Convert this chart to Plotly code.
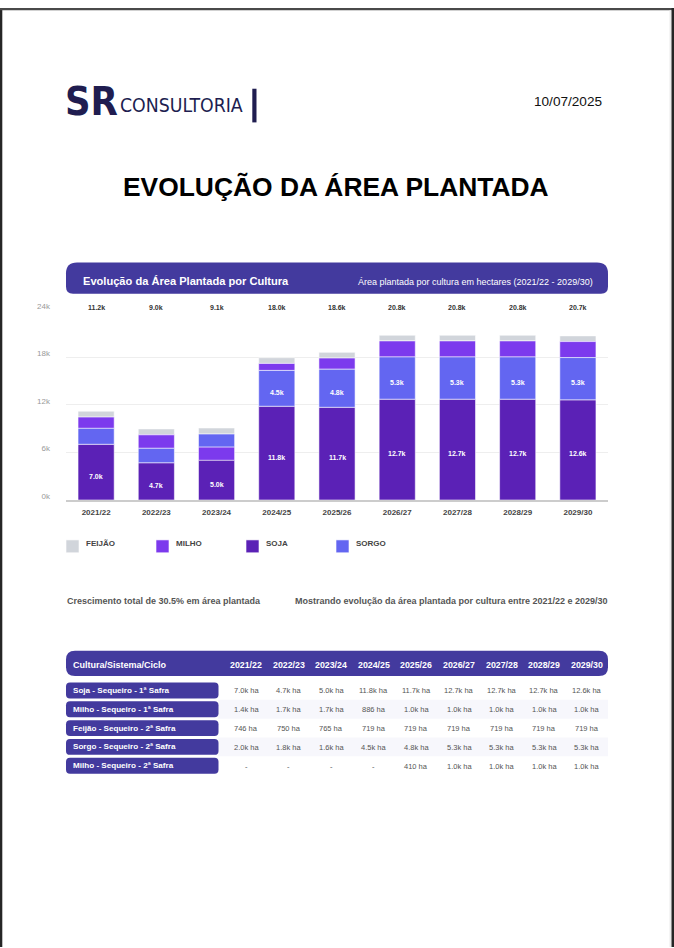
import plotly.graph_objects as go

W, H = 674, 948

# ---------------- data ----------------
safras = ["2021/22", "2022/23", "2023/24", "2024/25", "2025/26",
          "2026/27", "2027/28", "2028/29", "2029/30"]
soja = [7030, 4700, 5000, 11830, 11700, 12720, 12720, 12720, 12640]
milho_1 = [1420, 1700, 1700, 886, 1000, 1010, 1010, 1010, 1010]
feijao = [746, 750, 765, 719, 719, 719, 719, 719, 719]
sorgo = [2010, 1820, 1620, 4520, 4800, 5330, 5330, 5330, 5330]
milho_2 = [None, None, None, None, 410, 1010, 1010, 1010, 1010]

row_labels = ["Soja - Sequeiro - 1ª Safra", "Milho - Sequeiro - 1ª Safra",
              "Feijão - Sequeiro - 2ª Safra", "Sorgo - Sequeiro - 2ª Safra",
              "Milho - Sequeiro - 2ª Safra"]
y_ticks = [0, 6000, 12000, 18000, 24000]
y_tick_text = ["0k", "6k", "12k", "18k", "24k"]

crop_names = ["FEIJÃO", "MILHO", "SOJA", "SORGO"]
crop_colors = {"FEIJÃO": "#d1d5db", "MILHO": "#7c3aed", "SOJA": "#5b21b6", "SORGO": "#6366f1"}

milho_total = [a + (b or 0) for a, b in zip(milho_1, milho_2)]
crop_values = {"FEIJÃO": feijao, "MILHO": milho_total, "SOJA": soja, "SORGO": sorgo}
totals = [sum(crop_values[c][i] for c in crop_names) for i in range(len(safras))]

BAND = "#433a9e"
NAVY = "#201d50"
FONT = "Liberation Sans, Arial, Helvetica, sans-serif"
LOGO_FONT = "Liberation Sans Narrow, DejaVu Sans Condensed, sans-serif"


def px(x):
    return x / W


def py(y):
    return 1 - y / H


def kfmt(v):
    return f"{v / 1000:.1f}k"


def cell_fmt(v):
    if v is None:
        return "-"
    if v >= 1000:
        return f"{v / 1000:.1f}k ha"
    return f"{v} ha"


def rrect(x0, y0, x1, y1, r_top, r_bot=None):
    """Rounded rect path in paper coords from pixel coords."""
    if r_bot is None:
        r_bot = r_top
    X0, X1 = px(x0), px(x1)
    Y0, Y1 = py(y0), py(y1)  # Y0 is top (bigger)
    rtx, rty = r_top / W, r_top / H
    rbx, rby = r_bot / W, r_bot / H
    return (f"M {X0 + rtx},{Y0} L {X1 - rtx},{Y0} Q {X1},{Y0} {X1},{Y0 - rty} "
            f"L {X1},{Y1 + rby} Q {X1},{Y1} {X1 - rbx},{Y1} "
            f"L {X0 + rbx},{Y1} Q {X0},{Y1} {X0},{Y1 + rby} "
            f"L {X0},{Y0 - rty} Q {X0},{Y0} {X0 + rtx},{Y0} Z")


def text(x, y, s, size, color, anchor="left", family=FONT):
    return dict(x=px(x), y=py(y), xref="paper", yref="paper", xanchor=anchor, yanchor="middle",
                text=s, showarrow=False, borderpad=0, font=dict(family=family, size=size, color=color))


# ---------------- stacking order per bar: largest at the bottom ----------------
bases = {c: [0] * len(safras) for c in crop_names}
for i in range(len(safras)):
    order = sorted(crop_names, key=lambda c: -crop_values[c][i])
    acc = 0
    for c in order:
        bases[c][i] = acc
        acc += crop_values[c][i]

fig = go.Figure()
for c in crop_names:
    fig.add_trace(go.Bar(
        x=safras, y=crop_values[c], base=bases[c], name=c,
        marker=dict(color=crop_colors[c], line=dict(color="rgba(255,255,255,0.55)", width=1)),
        width=0.6, showlegend=False, hoverinfo="skip"))

annotations = []
shapes = []

# inside labels (soja + big sorgo)
for c in ["SOJA", "SORGO"]:
    for i, s in enumerate(safras):
        v = crop_values[c][i]
        if v >= 3000:
            annotations.append(dict(
                x=s, y=bases[c][i] + v / 2, xref="x", yref="y", text=f"<b>{kfmt(v)}</b>",
                showarrow=False, yshift=-4, font=dict(family=FONT, size=7, color="white")))

# totals above
for i, s in enumerate(safras):
    annotations.append(dict(
        x=s, y=py(297), xref="x", yref="paper", text=f"<b>{kfmt(totals[i])}</b>",
        showarrow=False, font=dict(family=FONT, size=7, color="#333333")))

# ---------------- page decorations ----------------
shapes += [
    dict(type="rect", xref="paper", yref="paper", x0=0, x1=px(2.3), y0=0, y1=1,
         fillcolor="#262626", line=dict(width=0), layer="above"),
    dict(type="rect", xref="paper", yref="paper", x0=0, x1=1, y0=py(2.3), y1=1,
         fillcolor="#4a4a4a", line=dict(width=0), layer="above"),
    dict(type="rect", xref="paper", yref="paper", x0=px(669.5), x1=px(671.5), y0=0, y1=py(2.3),
         fillcolor="#ececec", line=dict(width=0), layer="above"),
    dict(type="rect", xref="paper", yref="paper", x0=px(671.5), x1=1, y0=0, y1=1,
         fillcolor="#262626", line=dict(width=0), layer="above"),
]

# logo
annotations.append(text(63.5, 93.5, "<b>SR</b>", 39.5, NAVY, family=LOGO_FONT))
annotations.append(text(119, 98, "CONSULTORIA", 19.3, NAVY, family=LOGO_FONT))
shapes.append(dict(type="rect", xref="paper", yref="paper", x0=px(252.3), x1=px(256.5), y0=py(115.5), y1=py(81.5),
                   fillcolor=NAVY, line=dict(width=0)))

# date
annotations.append(text(533, 94.2, "10/07/2025", 13.6, "#111111"))

# main title
annotations.append(text(336, 180.5, "<b>EVOLUÇÃO DA ÁREA PLANTADA</b>", 26.4, "#000000", anchor="center"))

# chart header band
shapes.append(dict(type="path", xref="paper", yref="paper", path=rrect(66, 257, 608, 288.5, 11, 7),
                   fillcolor=BAND, line=dict(width=0)))
annotations.append(text(82, 276, "<b>Evolução da Área Plantada por Cultura</b>", 11.1, "white"))
annotations.append(text(593.5, 276.5, "Área plantada por cultura em hectares (2021/22 - 2029/30)", 9, "white",
                        anchor="right"))

# legend
leg_x = [66, 156, 246, 336]
for c, lx in zip(crop_names, leg_x):
    shapes.append(dict(type="rect", xref="paper", yref="paper", x0=px(lx), x1=px(lx + 13),
                       y0=py(550), y1=py(537), fillcolor=crop_colors[c],
                       line=dict(color="rgba(255,255,255,0.6)", width=1)))
    annotations.append(text(lx + 19, 541, f"<b>{c}</b>", 8, "#444444"))

# footer texts of chart
annotations.append(text(66, 599, "<b>Crescimento total de 30.5% em área plantada</b>", 9, "#555555"))
annotations.append(text(609, 599, "<b>Mostrando evolução da área plantada por cultura entre 2021/22 e 2029/30</b>",
                        9, "#555555", anchor="right"))

# ---------------- table ----------------
shapes.append(dict(type="path", xref="paper", yref="paper", path=rrect(66, 649, 608, 674.5, 9, 9),
                   fillcolor=BAND, line=dict(width=0)))
annotations.append(text(72, 663, "<b>Cultura/Sistema/Ciclo</b>", 9, "white"))
col_x = [246 + 42.6 * i for i in range(len(safras))]
for s, cx in zip(safras, col_x):
    annotations.append(text(cx, 663, f"<b>{s}</b>", 8.8, "white", anchor="center"))

table_rows = [soja, milho_1, feijao, sorgo, milho_2]
for r, (lab, vals) in enumerate(zip(row_labels, table_rows)):
    cy = 689 + 19 * r
    if r % 2 == 1:
        shapes.append(dict(type="rect", xref="paper", yref="paper", x0=px(218), x1=px(608),
                           y0=py(cy + 9.5), y1=py(cy - 9.5), fillcolor="#f7f7fc", line=dict(width=0),
                           layer="below"))
    shapes.append(dict(type="path", xref="paper", yref="paper", path=rrect(66, cy - 8, 218.5, cy + 8, 4, 4),
                       fillcolor=BAND, line=dict(width=0)))
    annotations.append(text(72, cy, f"<b>{lab}</b>", 8.1, "white"))
    for v, cx in zip(vals, col_x):
        annotations.append(text(cx, cy + 0.5, cell_fmt(v), 7.5, "#555555", anchor="center"))

fig.update_layout(
    width=W, height=H, margin=dict(l=0, r=0, t=0, b=0, pad=0),
    paper_bgcolor="white", plot_bgcolor="white",
    barmode="overlay", showlegend=False,
    font=dict(family=FONT),
    xaxis=dict(domain=[px(66), px(608)], type="category", categoryorder="array", categoryarray=safras,
               showline=True, linecolor="#cccccc", linewidth=2, showgrid=False, ticks="",
               tickfont=dict(family=FONT, size=8, color="#444444"), ticklabelstandoff=3,
               tickprefix="<b>", ticksuffix="</b>", fixedrange=True),
    yaxis=dict(domain=[py(496.7), py(304.7)], range=[0, 24000], tickvals=y_ticks, ticktext=y_tick_text,
               showgrid=True, gridcolor="#eeeeee", gridwidth=1, zeroline=False, showline=False, ticks="",
               tickfont=dict(family=FONT, size=8, color="#999999"), ticklabelstandoff=15,
               ticklabelshift=-4, fixedrange=True),
    shapes=shapes, annotations=annotations,
)

fig.write_html(
    "out.html",
    post_script="document.body.style.margin='0';document.body.style.padding='0';",
)
